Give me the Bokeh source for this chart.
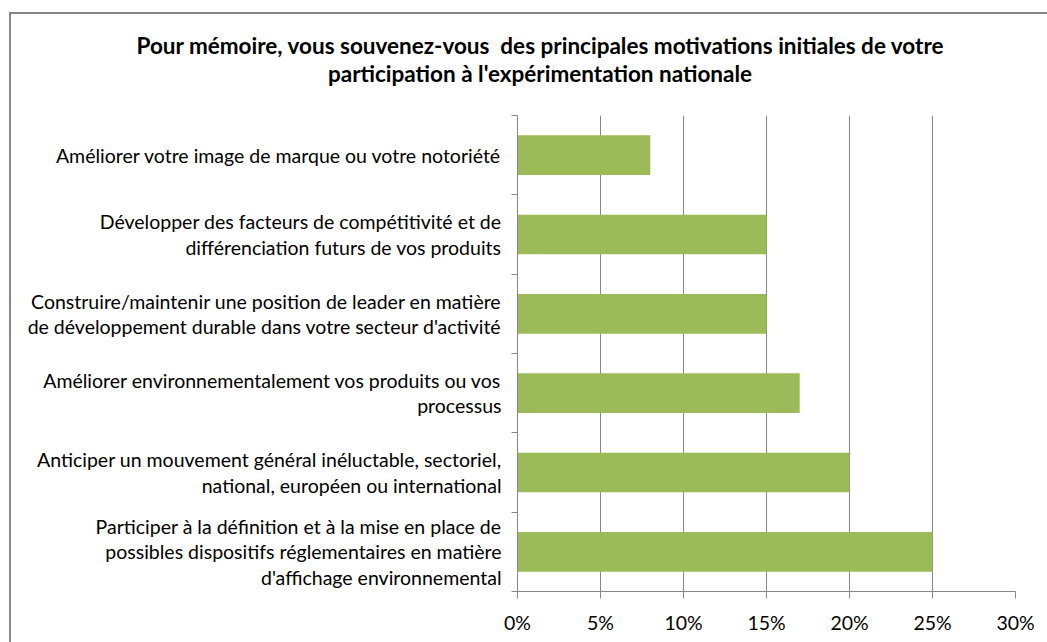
from bokeh.plotting import figure
from bokeh.models import Range1d, FixedTicker, NumeralTickFormatter, Div
from bokeh.layouts import column
from bokeh.embed import file_html
from bokeh.resources import INLINE

# categories from bottom to top
categories = [
    "Participer à la définition et à la mise en place de\npossibles dispositifs réglementaires en matière\nd'affichage environnemental",
    "Anticiper un mouvement général inéluctable, sectoriel,\nnational, européen ou international",
    "Améliorer environnementalement vos produits ou vos\nprocessus",
    "Construire/maintenir une position de leader en matière\nde développement durable dans votre secteur d'activité",
    "Développer des facteurs de compétitivité et de\ndifférenciation futurs de vos produits",
    "Améliorer votre image de marque ou votre notoriété",
]
values = [0.25, 0.20, 0.17, 0.15, 0.15, 0.08]
x_ticks = [0, 0.05, 0.10, 0.15, 0.20, 0.25, 0.30]
title_lines = ["Pour mémoire, vous souvenez-vous  des principales motivations initiales de votre",
               "participation à l'expérimentation nationale"]

GRAY = "#868686"
GREEN = "#9BBB59"
FONT = "Lato"

ys = list(range(len(categories)))

p = figure(width=1036, height=532, output_backend="svg", toolbar_location=None, title=None,
           x_range=Range1d(0, 0.30), y_range=Range1d(-0.5, len(categories) - 0.5),
           min_border_left=506, min_border_right=32, min_border_top=5, min_border_bottom=51)

p.hbar(y=ys, left=0, right=values, height=0.5, fill_color=GREEN, line_color=None)

p.outline_line_color = None
p.background_fill_color = "white"
p.border_fill_color = "white"

# x axis
xa = p.xaxis[0]
xa.ticker = FixedTicker(ticks=x_ticks)
xa.formatter = NumeralTickFormatter(format="0%")
xa.axis_line_color = GRAY
xa.major_tick_line_color = GRAY
xa.major_tick_out = 7
xa.major_tick_in = 0
xa.minor_tick_line_color = None
xa.major_label_text_font = FONT
xa.major_label_text_font_size = "19.5px"
xa.major_label_text_color = "black"
xa.major_label_standoff = 12

# y axis
ya = p.yaxis[0]
ya.ticker = FixedTicker(ticks=ys, minor_ticks=[i - 0.5 for i in range(len(categories) + 1)])
ya.major_label_overrides = {i: c for i, c in zip(ys, categories)}
ya.axis_line_color = GRAY
ya.major_tick_line_color = None
ya.minor_tick_line_color = GRAY
ya.minor_tick_out = 6
ya.minor_tick_in = 0
ya.major_label_text_font = FONT
ya.major_label_text_font_size = "19.5px"
ya.major_label_text_color = "black"
ya.major_label_text_line_height = 1.1
ya.major_label_text_align = "center"
ya.major_label_standoff = 10

p.xgrid.grid_line_color = GRAY
p.xgrid.ticker = FixedTicker(ticks=x_ticks)
p.ygrid.grid_line_color = None

title_html = ('<div style="margin:0; padding:18px 0 0 22px; width:1014px; display:block; '
              'text-align:center; box-sizing:content-box; '
              f'font-family:{FONT}; font-weight:bold; font-size:22.5px; line-height:28px; '
              'color:black; white-space:pre-wrap;">'
              + "\n".join(title_lines) + '</div>')
title = Div(text=title_html, width=1036, height=96, margin=0,
            styles={"background-color": "white"})

layout = column(title, p, spacing=0)
layout.styles = {"border-left": f"2px solid {GRAY}", "border-top": f"2px solid {GRAY}",
                 "margin-left": "9px", "margin-top": "12px", "background-color": "white"}

open("out.html", "w").write(file_html(layout, INLINE))
